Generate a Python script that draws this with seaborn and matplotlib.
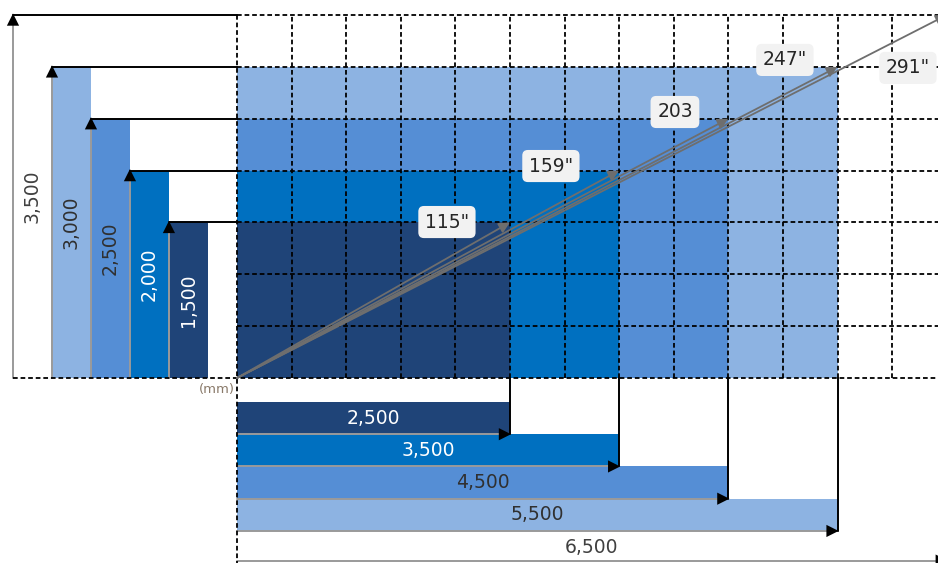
import matplotlib
matplotlib.use('Agg')
import matplotlib.pyplot as plt
import seaborn as sns

sns.set_theme(style='white')
plt.rcParams['font.family'] = ['DejaVu Sans']

# Tamaños de pantalla (mm) y diagonal en pulgadas
anchos = [2500, 3500, 4500, 5500, 6500]
altos = [1500, 2000, 2500, 3000, 3500]
diagonales = ['115"', '159"', '203', '247"', '291"']
etiquetas_ancho = ['2,500', '3,500', '4,500', '5,500', '6,500']
etiquetas_alto = ['1,500', '2,000', '2,500', '3,000', '3,500']

colores = ['#1F4478', '#0070C0', '#558ED5', '#8DB3E2', 'white']
color_texto = ['white', 'white', '#303030', '#303030', '#404040']

fig = plt.figure(figsize=(9.38, 5.63), dpi=100)
ax = fig.add_axes([0, 0, 1, 1])
ax.set_xlim(-2170, 6420)
ax.set_ylim(-1784, 3645)
ax.axis('off')

flecha = dict(arrowstyle='-|>', color='black', lw=0,
              mutation_scale=22, shrinkA=0, shrinkB=0)

# Pantallas (de la más grande a la más chica)
for i in range(3, -1, -1):
    ax.bar(0, altos[i], width=anchos[i], align='edge', color=colores[i],
           linewidth=0, zorder=1)

# Barras de la izquierda (alto)
gap_izq, ancho_izq = 266, 357
for i, h in enumerate(altos):
    x0 = -gap_izq - (i + 1) * ancho_izq
    if i < 4:
        ax.bar(x0, h, width=ancho_izq, align='edge', color=colores[i],
               linewidth=0, zorder=1)
    ax.plot([x0, x0], [0, h], color='#9A9A9A', lw=1.4, zorder=2)
    ax.plot([x0, 0], [h, h], color='black', lw=1.4, zorder=2)
    ax.annotate('', xy=(x0, h + 15), xytext=(x0, h - 120),
                arrowprops=flecha, zorder=4)
    ax.text(x0 + ancho_izq / 2, h / 2, etiquetas_alto[i], rotation=90,
            ha='center', va='center', fontsize=13.5, color=color_texto[i],
            zorder=5)

# Barras de abajo (ancho)
gap_abj, alto_abj = 231, 311
for j, w in enumerate(anchos):
    y0 = -gap_abj - (j + 1) * alto_abj
    if j < 4:
        ax.barh(y0, w, height=alto_abj, align='edge', color=colores[j],
                linewidth=0, zorder=1)
        ax.plot([0, w], [y0, y0], color='#9A9A9A', lw=1.4, zorder=2)
    else:
        ax.plot([0, w], [y0 + 20, y0 + 20], color='#9A9A9A', lw=1.4, zorder=2)
    ax.plot([w, w], [0, y0], color='black', lw=1.4, zorder=2)
    ax.annotate('', xy=(w + 10, y0 + (0 if j < 4 else 25)),
                xytext=(w - 130, y0 + (0 if j < 4 else 25)),
                arrowprops=flecha, zorder=4, annotation_clip=False)
    ax.text(w / 2, y0 + alto_abj / 2, etiquetas_ancho[j], ha='center',
            va='center', fontsize=13.5, color=color_texto[j], zorder=5)

# Cuadrícula punteada
estilo = dict(color='black', lw=1.3, linestyle=(0, (2.6, 1.6)), zorder=3)
for k in range(1, 14):
    ax.plot([500 * k, 500 * k], [0, altos[-1]], **estilo)
ax.plot([0, 0], [altos[-1], -1784], **estilo)
for k in range(1, 8):
    ax.plot([0, anchos[-1]], [500 * k, 500 * k], **estilo)
ax.plot([-gap_izq - 5 * ancho_izq, anchos[-1]], [0, 0], **estilo)

# Diagonales
for w, h in zip(anchos, altos):
    ax.annotate('', xy=(w, h), xytext=(0, 0),
                arrowprops=dict(arrowstyle='-|>', color='#6E6E6E', lw=1.3,
                                mutation_scale=16, shrinkA=0, shrinkB=0),
                zorder=6, annotation_clip=False)

pos_diag = [(1923, 1504), (2875, 2044), (4011, 2565), (5018, 3067), (6145, 2990)]
for (x, y), t in zip(pos_diag, diagonales):
    ax.text(x, y, t, ha='center', va='center', fontsize=13.5, color='#262626',
            zorder=7,
            bbox=dict(boxstyle='round,pad=0.35,rounding_size=0.3',
                      fc='#F2F2F2', ec='none'))

ax.text(-20, -110, '(mm)', ha='right', va='center', fontsize=9.5,
        color='#8A7A6A', zorder=5)

fig.savefig('out.png', dpi=100)
